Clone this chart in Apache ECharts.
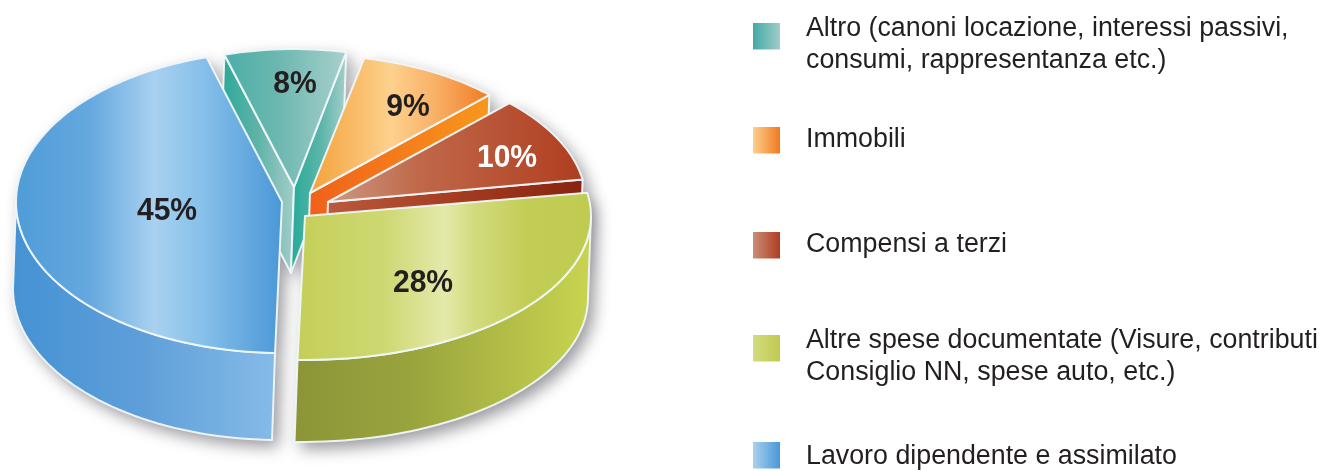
<!DOCTYPE html>
<html>
<head>
<meta charset="utf-8">
<style>
  html, body { margin: 0; padding: 0; background: #fff; }
  #chart { width: 1324px; height: 471px; }
</style>
<script src="https://cdn.jsdelivr.net/npm/echarts@6/dist/echarts.min.js"></script>
</head>
<body>
<div id="chart"></div>
<script>
// slices, clockwise from the back of the pie
var names = ['Altro', 'Immobili', 'Compensi a terzi', 'Altre spese documentate', 'Lavoro dipendente e assimilato'];
var values = [8, 9, 10, 28, 45];
var legendLines = [
  ['Altro (canoni locazione, interessi passivi,', 'consumi, rappresentanza etc.)'],
  ['Immobili'],
  ['Compensi a terzi'],
  ['Altre spese documentate (Visure, contributi', 'Consiglio NN, spese auto, etc.)'],
  ['Lavoro dipendente e assimilato']
];

var START_ANGLE = -16.5;
var RAD = Math.PI / 180;
var LEAN = -3;

function grad(stops) {
  return new echarts.graphic.LinearGradient(0, 0, 1, 0, stops.map(function (c) {
    return { offset: c[0], color: c[1] };
  }));
}

// where each exploded slice sits, and how it is painted
var look = [
  {
    cx: 294, cy: 187, rx: 245, ry: 138, h: 86, labelX: 295, labelY: 84, labelColor: '#231f20',
    top: [[0, '#4aaea8'], [0.45, '#6db8b0'], [1, '#a9d0cd']],
    cutStart: [[0, '#2aa898'], [0.5, '#5fb3a8'], [1, '#a5cdca']],
    cutEnd: [[0, '#25a998'], [0.55, '#5db5aa'], [1, '#a8d0cc']]
  },
  {
    cx: 310, cy: 193, rx: 255, ry: 138, h: 86, labelX: 408, labelY: 107, labelColor: '#231f20',
    top: [[0, '#f4a139'], [0.45, '#fdd18e'], [0.7, '#f9b066'], [1, '#ef7a1f']],
    cutEnd: [[0, '#f0601a'], [1, '#f8981c']]
  },
  {
    cx: 328, cy: 202, rx: 258, ry: 139, h: 86, labelX: 507, labelY: 158, labelColor: '#ffffff',
    top: [[0, '#cb9a84'], [0.35, '#c0694a'], [1, '#b03d20']],
    cutEnd: [[0, '#bb5a3e'], [0.55, '#a23a1e'], [1, '#872310']]
  },
  {
    cx: 305, cy: 216, rx: 286, ry: 144, h: 82, labelX: 423, labelY: 283, labelColor: '#231f20',
    top: [[0, '#c4cf58'], [0.3, '#ced873'], [0.5, '#e4e9aa'], [0.6, '#d3db7e'], [0.78, '#c2cd56'], [1, '#bfcb50']],
    wall: [[0, '#8b9538'], [0.4, '#9aa43d'], [0.75, '#b5c048'], [1, '#c9d550']]
  },
  {
    cx: 282, cy: 202, rx: 266, ry: 151, h: 87, labelX: 167, labelY: 211, labelColor: '#231f20',
    top: [[0, '#4f9cd8'], [0.28, '#65a8df'], [0.52, '#a9d1f0'], [0.7, '#86c0ea'], [1, '#4a97d6']],
    wall: [[0, '#4592d4'], [0.5, '#5f9fd9'], [1, '#86bbe8']]
  }
];

var legendSwatches = [
  [[0, '#44aaa6'], [1, '#a0ccc8']],
  [[0, '#fdd08c'], [1, '#f07a20']],
  [[0, '#c98e78'], [1, '#b03d20']],
  [[0, '#d3db7e'], [1, '#bfcb50']],
  [[0, '#a9d1f0'], [1, '#4a97d6']]
];
var legendTextY = [28.5, 139.5, 244.5, 340.5, 456.5];
var legendSwatchY = [23, 127, 232, 335, 442];

var LINE_STYLE = { stroke: 'rgba(240,247,250,0.95)', lineWidth: 2, lineJoin: 'round' };
var SHADOW = { shadowBlur: 16, shadowColor: 'rgba(50,50,60,0.5)', shadowOffsetX: 6, shadowOffsetY: 7 };

function total() {
  return values.reduce(function (a, b) { return a + b; }, 0);
}

function rim(l, deg) {
  return [l.cx + l.rx * Math.sin(deg * RAD), l.cy - l.ry * Math.cos(deg * RAD)];
}

function arc(l, from, to) {
  var pts = [];
  var n = Math.max(2, Math.ceil(Math.abs(to - from) / 2));
  for (var k = 0; k <= n; k++) {
    pts.push(rim(l, from + (to - from) * k / n));
  }
  return pts;
}

function drop(l, p) {
  return [p[0] + LEAN, p[1] + l.h];
}

function piece(points, fill) {
  return { type: 'polygon', shape: { points: points }, style: Object.assign({ fill: fill }, LINE_STYLE) };
}

function cutFace(l, deg, stops) {
  var apex = [l.cx, l.cy];
  var edge = rim(l, deg);
  return piece([apex, edge, drop(l, edge), drop(l, apex)], grad(stops));
}

// wall, cut faces and top of one slice, back to front
function sliceFaces(i, value) {
  var l = look[i];
  var before = 0;
  for (var k = 0; k < i; k++) before += values[k];
  var from = START_ANGLE + before / total() * 360;
  var to = from + value / total() * 360;
  var faces = [];

  if (l.wall) {
    var a = arc(l, Math.max(from, 90), Math.min(to, 270));
    var wallPts = a.concat(a.slice().reverse().map(function (p) { return drop(l, p); }));
    faces.push(piece(wallPts, grad(l.wall)));
  }
  if (l.cutStart) faces.push(cutFace(l, from, l.cutStart));
  if (l.cutEnd) faces.push(cutFace(l, to, l.cutEnd));
  faces.push(piece([[l.cx, l.cy]].concat(arc(l, from, to)), grad(l.top)));
  return faces;
}

// drawn under every slice so a shadow only lands on the white page
function renderShadow(params, api) {
  var faces = sliceFaces(params.dataIndex, api.value(0));
  faces.forEach(function (f) {
    Object.assign(f.style, SHADOW, { stroke: null });
  });
  return { type: 'group', children: faces };
}

function renderSlice(params, api) {
  var l = look[params.dataIndex];
  var kids = sliceFaces(params.dataIndex, api.value(0));
  kids.push({
    type: 'text',
    x: l.labelX,
    y: l.labelY,
    scaleX: 0.94,
    style: {
      text: api.value(0) + '%',
      x: 0,
      y: 0,
      align: 'center',
      verticalAlign: 'middle',
      fill: l.labelColor,
      font: 'bold 32px "Liberation Sans", Arial, sans-serif'
    }
  });
  return { type: 'group', children: kids };
}

var legendGraphic = [];
legendLines.forEach(function (lines, i) {
  legendGraphic.push({
    type: 'rect',
    shape: { x: 753, y: legendSwatchY[i], width: 27, height: 26.5 },
    style: { fill: grad(legendSwatches[i]) }
  });
  lines.forEach(function (line, j) {
    legendGraphic.push({
      type: 'text',
      style: {
        text: line,
        x: 806,
        y: legendTextY[i] + j * 32,
        verticalAlign: 'middle',
        fill: '#231f20',
        font: '26.8px "Liberation Sans", Arial, sans-serif'
      }
    });
  });
});

var seriesData = values.map(function (v, i) { return { name: names[i], value: [v] }; });

var chart = echarts.init(document.getElementById('chart'));
chart.setOption({
  backgroundColor: '#ffffff',
  animation: false,
  graphic: legendGraphic,
  series: [
    { type: 'custom', coordinateSystem: 'none', z: 1, silent: true, renderItem: renderShadow, data: seriesData },
    { type: 'custom', coordinateSystem: 'none', z: 2, renderItem: renderSlice, data: seriesData }
  ]
});
</script>
</body>
</html>
